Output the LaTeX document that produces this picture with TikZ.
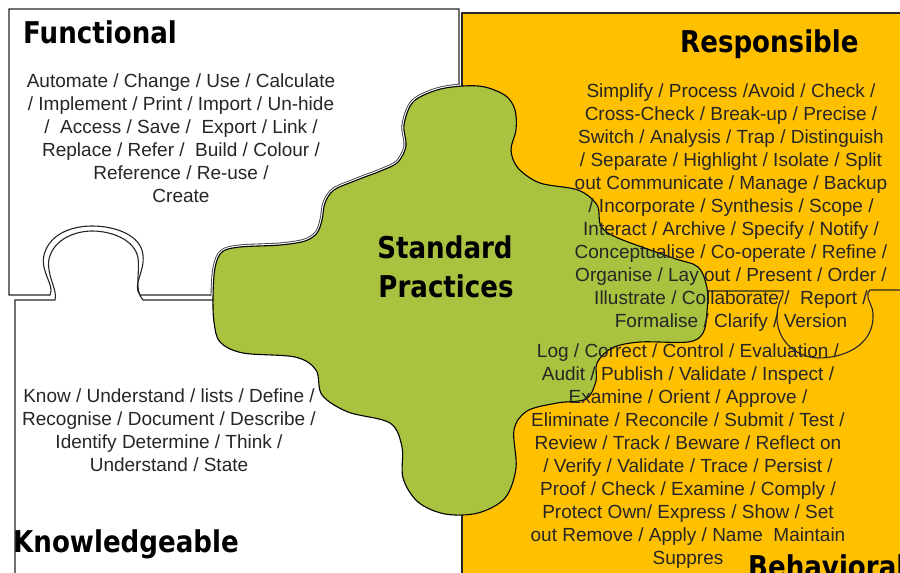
\documentclass[tikz,border=0pt]{standalone}
\usepackage{fontspec}
\setmainfont{Liberation Sans}
\newfontfamily\titlefont{DejaVu Sans}[FakeStretch=0.87]
\definecolor{gold}{HTML}{FFC000}
\definecolor{olive}{HTML}{A9C23F}
\definecolor{ink}{HTML}{262626}
\def\greenpath{plot[smooth cycle, tension=0.55] coordinates {(463,86) (437,90) (413,102) (404,125) (406,146) (398,162) (383,170) (357,180) (334,190) (325,203) (322,220) (317,233) (305,241) (280,245) (240,247) (222,252) (215,268) (213,297) (214,322) (220,342) (243,353) (295,357) (316,370) (322,395) (348,412) (390,423) (402,447) (403,478) (418,502) (445,514) (478,513) (505,498) (516,468) (514,430) (527,411) (557,403) (586,399) (596,381) (597,363) (612,348) (640,342) (688,342) (703,333) (707,312) (707,288) (698,267) (673,258) (618,238) (601,226) (597,205) (578,190) (540,183) (518,168) (511,150) (516,130) (515,110) (506,96) (485,87)}}
\begin{document}
\begin{tikzpicture}[x=1pt,y=-1pt,
  edge/.style={draw=black!85, line width=1.1pt},
  body/.style={font={\fontsize{19}{23}\selectfont}, text=ink, inner sep=0pt, anchor=base},
  title/.style={font={\titlefont\bfseries\fontsize{30}{36}\selectfont}, text=black, inner sep=0pt, anchor=base west}]
\useasboundingbox (0,0) rectangle (900,573);
\fill[white] (0,0) rectangle (900,573);

% Knowledgeable piece outline
\draw[edge] (15,580) -- (15,300) -- (55,300)
  .. controls (58,290) and (46,275) .. (49,259)
  .. controls (54,238) and (77,231) .. (92,231)
  .. controls (112,231) and (135,240) .. (138,258)
  .. controls (140,275) and (134,290) .. (143,300) -- (216,300);

% Functional piece outline
\draw[edge] (459,84) -- (459,9) -- (9,9) -- (9,295) -- (50,295)
  .. controls (55,285) and (40,272) .. (44,255)
  .. controls (50,232) and (75,226) .. (92,226)
  .. controls (115,226) and (141,235) .. (143,255)
  .. controls (145,272) and (132,285) .. (140,295) -- (214,295);

% Responsible / Behavioral pieces
\fill[gold] (462,13) rectangle (910,580);
\draw[edge] (462,580) -- (462,13) -- (910,13);
\draw[edge] (700,291) -- (783,291)
  .. controls (784,296) and (778,300) .. (777,315)
  .. controls (776,340) and (795,357) .. (818,358)
  .. controls (845,358) and (872,345) .. (873,318)
  .. controls (874,305) and (866,300) .. (868,293) -- (870,290) -- (910,290);

% Standard Practices piece
\begin{scope}
  \clip (0,0) rectangle (459.5,295);
  \draw[draw=black!75, double=white, double distance=3.2pt, line width=0.9pt] \greenpath;
\end{scope}
\filldraw[fill=olive, draw=black, line width=1.1pt] \greenpath;

% Titles
\node[title] (tf) at (23,43) {Functional};
\node[title] (tr) at (680,52) {Responsible};
\node[title] (tk) at (13,552) {Knowledgeable};
\node[title] (tb) at (748,577) {Behavioral};
\node[title, anchor=base] (ts1) at (445,258) {Standard};
\node[title, anchor=base] (ts2) at (446,297) {Practices};

% Functional text
\foreach \t [count=\i] in {Automate / Change / Use / Calculate,
  / Implement / Print / Import / Un-hide,
  /\ \ Access / Save /\ \ Export / Link /,
  Replace / Refer /\ \ Build / Colour /,
  Reference / Re-use /,
  Create}
  \node[body] (f\i) at (181,{87+23*(\i-1)}) {\t};

% Knowledgeable text
\foreach \t [count=\i] in {Know / Understand / lists / Define /,
  Recognise / Document / Describe /,
  Identify Determine / Think /,
  Understand / State}
  \node[body] (k\i) at (169,{402+23*(\i-1)}) {\t};

% Responsible text
\foreach \t [count=\i] in {Simplify / Process /Avoid / Check /,
  Cross-Check / Break-up / Precise /,
  Switch / Analysis / Trap / Distinguish,
  / Separate / Highlight / Isolate / Split,
  out Communicate / Manage / Backup,
  / Incorporate / Synthesis / Scope /,
  Interact / Archive / Specify / Notify /,
  Conceptualise / Co-operate / Refine /,
  Organise / Lay out / Present / Order /,
  Illustrate / Collaborate /\ \ Report /,
  Formalise / Clarify / Version}
  \node[body] (r\i) at (731,{97+23*(\i-1)}) {\t};

% Behavioral text
\foreach \t [count=\i] in {Log / Correct / Control / Evaluation /,
  Audit / Publish / Validate / Inspect /,
  Examine / Orient / Approve /,
  Eliminate / Reconcile / Submit / Test /,
  Review / Track / Beware / Reflect on,
  / Verify / Validate / Trace / Persist /,
  Proof / Check / Examine / Comply /,
  Protect Own/ Express / Show / Set,
  out Remove / Apply / Name\ \ Maintain,
  Suppres}
  \node[body] (b\i) at (688,{357+23*(\i-1)}) {\t};
\end{tikzpicture}
\end{document}
